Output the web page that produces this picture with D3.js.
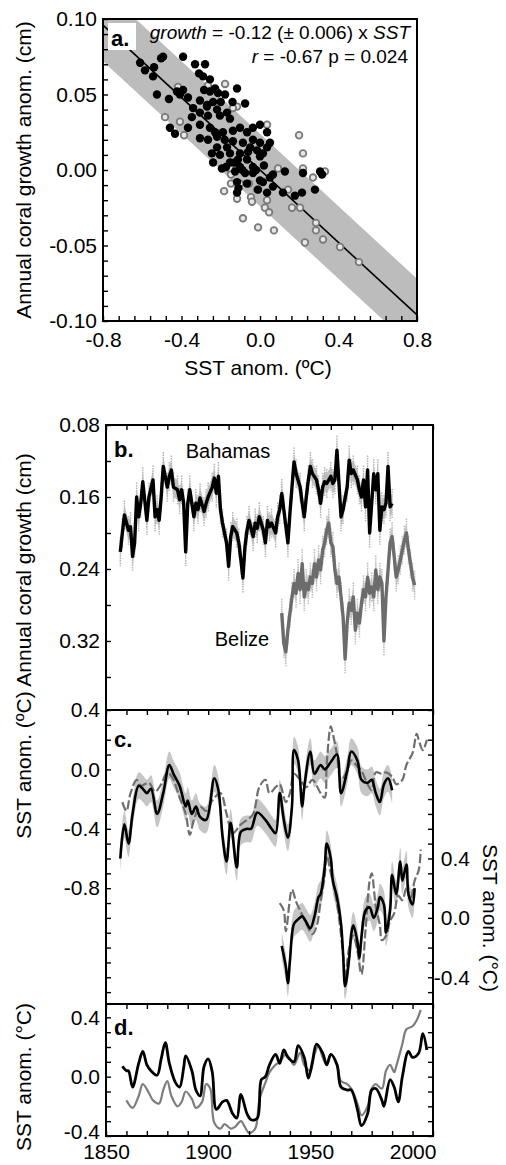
<!DOCTYPE html>
<html>
<head>
<meta charset="utf-8">
<script src="https://cdn.jsdelivr.net/npm/d3@7"></script>
<style>
body { margin: 0; background: #fff; }
</style>
</head>
<body>
<svg></svg>
<script>
// ================= DATA =================
// panel a: [SST anom, growth anom]
const filledPoints = [[-0.611,0.071],[-0.540,0.068],[-0.494,0.075],[-0.392,0.075],[-0.545,0.062],[-0.525,0.050],[-0.464,0.047],[-0.459,0.028],[-0.433,0.024],[-0.408,0.050],[-0.367,0.048],[-0.347,0.035],[-0.367,0.028],[-0.331,0.070],[-0.311,0.064],[-0.290,0.062],[-0.255,0.060],[-0.285,0.053],[-0.255,0.052],[-0.229,0.054],[-0.214,0.051],[-0.178,0.050],[-0.117,0.054],[-0.076,0.044],[-0.306,0.046],[-0.270,0.043],[-0.239,0.045],[-0.306,0.038],[-0.265,0.036],[-0.219,0.040],[-0.204,0.036],[-0.168,0.038],[-0.153,0.034],[-0.306,0.030],[-0.255,0.028],[-0.229,0.025],[-0.306,0.021],[-0.265,0.020],[-0.219,0.022],[-0.189,0.025],[-0.138,0.026],[-0.102,0.028],[-0.066,0.025],[-0.036,0.028],[0.000,0.030],[0.036,0.025],[0.051,0.018],[0.000,0.018],[-0.036,0.020],[-0.087,0.018],[-0.138,0.019],[-0.168,0.015],[-0.219,0.015],[-0.245,0.011],[-0.204,0.010],[-0.153,0.011],[-0.102,0.011],[-0.061,0.012],[-0.015,0.013],[0.015,0.011],[-0.239,0.005],[-0.194,0.001],[-0.153,0.005],[-0.112,0.007],[-0.066,0.007],[-0.036,0.002],[0.000,0.009],[0.036,0.015],[-0.076,-0.002],[-0.036,-0.002],[-0.066,-0.009],[0.015,-0.008],[0.066,-0.003],[0.127,-0.001],[-0.117,-0.015],[-0.010,-0.013],[0.036,-0.015],[0.066,-0.011],[0.117,-0.015],[0.178,-0.017],[0.214,-0.015],[0.280,-0.013],[0.219,-0.002],[0.316,-0.003],[0.306,-0.001],[-0.117,-0.008],[-0.127,-0.001],[-0.102,0.002],[-0.173,0.002],[-0.504,0.074],[-0.423,0.052],[-0.392,0.053],[-0.341,0.041],[-0.270,0.042],[-0.586,0.066],[0.051,-0.005],[0.000,-0.007],[-0.180,0.020],[-0.130,0.005],[-0.090,0.000],[-0.050,0.015],[-0.020,0.000],[0.020,0.003],[-0.200,0.045],[-0.140,0.045],[-0.280,0.070],[-0.110,-0.012]];
const openPoints = [[-0.484,0.035],[-0.418,0.055],[-0.387,0.023],[-0.408,0.032],[-0.265,0.056],[-0.178,0.057],[-0.117,0.042],[-0.138,0.041],[0.036,0.030],[0.199,0.023],[0.219,0.011],[0.219,0.001],[0.331,-0.001],[0.270,-0.005],[0.092,0.001],[-0.153,0.001],[-0.148,-0.003],[-0.102,-0.009],[-0.148,-0.009],[-0.183,-0.014],[-0.056,-0.009],[-0.015,-0.013],[-0.046,-0.018],[-0.117,-0.019],[-0.041,-0.021],[0.036,-0.020],[0.025,-0.025],[0.046,-0.028],[-0.087,-0.032],[-0.010,-0.038],[0.071,-0.040],[0.143,-0.013],[0.163,-0.025],[0.204,-0.025],[0.285,-0.035],[0.285,-0.040],[0.321,-0.046],[0.229,-0.048],[0.408,-0.051],[0.504,-0.061]];
const fitSlope = -0.12;
const fitBand = 0.024;

// panel b: annual coral growth (cm)
const bahamasYears = [1857,1858,1859,1861,1862,1863,1864,1865,1866,1867,1868,1870,1871,1873,1874,1875,1876,1877,1878,1880,1881,1882,1883,1885,1886,1887,1888,1889,1890,1891,1893,1894,1895,1896,1898,1899,1900,1902,1903,1904,1905,1906,1907,1909,1910,1911,1912,1914,1915,1916,1917,1918,1919,1920,1922,1923,1924,1925,1927,1928,1929,1930,1931,1933,1934,1935,1936,1937,1939,1940,1941,1942,1943,1945,1946,1947,1948,1949,1950,1951,1953,1954,1955,1956,1957,1958,1960,1961,1962,1963,1964,1965,1966,1968,1969,1970,1971,1973,1974,1975,1976,1977,1978,1979,1981,1982,1983,1984,1985,1986,1987,1988,1989,1990];
const bahamasGrowth = [0.221,0.200,0.180,0.197,0.193,0.226,0.211,0.160,0.182,0.167,0.143,0.186,0.160,0.141,0.182,0.174,0.186,0.160,0.126,0.149,0.137,0.130,0.149,0.152,0.163,0.152,0.167,0.221,0.167,0.152,0.182,0.167,0.174,0.161,0.176,0.167,0.160,0.149,0.139,0.156,0.137,0.174,0.189,0.211,0.237,0.204,0.193,0.200,0.211,0.230,0.250,0.215,0.197,0.186,0.204,0.189,0.195,0.182,0.197,0.211,0.186,0.193,0.189,0.200,0.182,0.174,0.156,0.174,0.211,0.178,0.149,0.121,0.134,0.149,0.167,0.182,0.160,0.141,0.126,0.134,0.141,0.152,0.167,0.149,0.143,0.145,0.137,0.145,0.141,0.108,0.145,0.182,0.174,0.149,0.119,0.134,0.130,0.141,0.152,0.160,0.141,0.171,0.130,0.200,0.134,0.152,0.134,0.197,0.171,0.174,0.167,0.126,0.171,0.167];
const belizeFirstYear = 1936;
const belizeGrowth = [0.289,0.323,0.332,0.308,0.289,0.271,0.256,0.267,0.245,0.263,
  0.234,0.271,0.256,0.263,0.249,0.256,0.234,0.249,0.230,0.241,
  0.219,0.211,0.197,0.189,0.211,0.215,0.241,0.256,0.249,0.271,
  0.293,0.340,0.300,0.278,0.286,0.271,0.308,0.289,0.300,0.278,
  0.263,0.271,0.249,0.267,0.260,0.271,0.241,0.263,0.249,0.256,
  0.320,0.271,0.241,0.211,0.204,0.226,0.249,0.241,0.230,0.219,
  0.208,0.200,0.219,0.234,0.249,0.258];
const growthErr = 0.016;

// panel c: coral SST (black) and instrumental SST (grey dashed)
const cBahYears = [1857,1859,1861,1863,1866,1868,1870,1872,1875,1878,1881,1883,1886,1889,1890,1892,1894,1896,1899,1903,1905,1907,1909,1911,1914,1916,1919,1921,1924,1928,1931,1933,1935,1937,1939,1941,1942,1944,1946,1947,1950,1952,1955,1957,1960,1963,1965,1968,1970,1973,1975,1978,1980,1982,1984,1986,1988,1990];
const cBahSST = [-0.60,-0.37,-0.50,-0.30,-0.11,-0.13,-0.16,-0.13,-0.30,-0.16,0.03,-0.03,-0.11,-0.25,-0.21,-0.30,-0.25,-0.32,-0.34,-0.06,-0.14,-0.45,-0.62,-0.36,-0.66,-0.42,-0.40,-0.40,-0.29,-0.34,-0.40,-0.43,-0.16,-0.34,-0.46,-0.25,0.13,0.06,-0.25,-0.12,0.12,-0.03,0.03,0.00,0.05,0.10,-0.16,-0.01,0.12,0.06,-0.07,-0.09,-0.07,-0.16,-0.22,-0.10,-0.06,-0.14];
const cBahInstrYears = [1858,1860,1862,1865,1867,1871,1874,1877,1880,1883,1886,1889,1891,1893,1896,1899,1902,1906,1909,1912,1916,1919,1922,1925,1928,1930,1933,1935,1938,1940,1942,1945,1948,1951,1955,1957,1958,1960,1961,1963,1965,1968,1970,1973,1975,1978,1980,1982,1985,1987,1990,1992,1995,1997,2000,2002,2003,2005,2007];
const cBahInstrSST = [-0.22,-0.28,-0.16,-0.07,-0.11,-0.09,-0.15,-0.10,-0.02,-0.07,-0.19,-0.30,-0.44,-0.34,-0.25,-0.28,-0.21,-0.16,-0.30,-0.43,-0.37,-0.34,-0.30,-0.12,-0.07,-0.16,-0.12,-0.10,-0.22,-0.16,-0.03,-0.07,-0.12,-0.07,-0.16,-0.19,0.04,0.29,0.24,0.10,-0.07,-0.01,0.06,0.02,-0.01,-0.10,-0.14,-0.02,-0.03,-0.02,-0.05,-0.10,-0.07,0.03,0.11,0.24,0.20,0.13,0.20];
// Belize pair, read on the right-hand axis
const cBelYears = [1936,1938,1939,1940,1942,1944,1946,1948,1950,1952,1954,1955,1957,1958,1960,1961,1963,1965,1966,1967,1969,1970,1971,1973,1974,1975,1977,1979,1981,1983,1984,1986,1987,1989,1990,1992,1994,1995,1997,1998,2000,2001];
const cBelSST = [-0.19,-0.33,-0.44,-0.29,-0.04,-0.01,0.01,-0.03,-0.07,0.01,0.14,0.16,0.34,0.50,0.40,0.25,0.14,-0.04,-0.24,-0.46,-0.27,-0.11,-0.05,-0.16,-0.27,-0.13,0.05,0.07,0.00,0.07,0.14,0.09,-0.10,0.05,0.29,0.16,0.38,0.25,0.36,0.16,0.09,0.20];
const cBelInstrYears = [1935,1937,1938,1941,1943,1946,1948,1951,1953,1955,1957,1958,1960,1962,1964,1966,1967,1969,1971,1973,1975,1977,1979,1980,1982,1984,1985,1987,1989,1991,1993,1995,1997,1999,2001,2003,2004];
const cBelInstrSST = [0.10,0.05,-0.09,0.19,0.11,0.02,-0.04,-0.11,-0.06,0.11,0.28,0.42,0.30,0.18,0.00,-0.25,-0.40,-0.20,-0.12,-0.22,-0.38,-0.08,0.25,0.30,0.08,-0.05,-0.15,-0.12,-0.02,0.03,0.15,0.12,0.20,0.12,0.25,0.32,0.46];
const rightOffset = 1.0;  // right axis = left axis + 1.0
const sstErr = 0.09;

// panel d
const dBlackYears = [1858,1860,1861,1863,1866,1868,1870,1872,1875,1877,1879,1881,1884,1886,1888,1889,1892,1894,1896,1898,1900,1902,1904,1907,1909,1912,1914,1916,1919,1921,1924,1926,1928,1930,1933,1935,1937,1939,1942,1944,1947,1949,1951,1953,1956,1958,1960,1963,1965,1968,1970,1973,1975,1978,1980,1982,1985,1986,1989,1991,1993,1995,1998,2000,2003,2005,2007];
const dBlackSST = [0.07,0.04,0.04,-0.07,0.09,0.17,0.08,0.04,0.01,0.12,0.23,0.09,-0.04,-0.07,0.06,0.14,0.04,-0.09,-0.13,0.07,0.12,0.03,-0.22,-0.17,-0.16,-0.25,-0.28,-0.12,-0.25,-0.29,-0.28,-0.02,0.00,0.08,0.15,0.09,0.18,0.13,0.10,0.21,0.13,-0.01,0.10,0.22,0.16,0.08,0.15,0.08,-0.07,-0.09,-0.09,-0.22,-0.33,-0.25,-0.09,-0.08,-0.16,-0.20,-0.02,-0.07,-0.17,0.00,0.17,0.13,0.16,0.29,0.18];
const dGrayYears = [1860,1863,1866,1868,1871,1873,1876,1878,1880,1882,1885,1887,1889,1892,1894,1897,1899,1901,1903,1906,1908,1911,1913,1916,1918,1920,1923,1925,1928,1930,1933,1935,1938,1940,1942,1945,1947,1950,1952,1954,1956,1958,1960,1963,1965,1968,1970,1973,1975,1978,1980,1982,1985,1987,1989,1991,1992,1995,1997,2000,2002,2004];
const dGraySST = [-0.16,-0.21,-0.13,-0.05,-0.11,-0.16,-0.18,-0.09,-0.03,-0.13,-0.20,-0.17,-0.10,-0.15,-0.21,-0.17,-0.05,-0.08,-0.31,-0.35,-0.32,-0.35,-0.34,-0.30,-0.34,-0.38,-0.35,-0.16,-0.04,0.03,0.08,0.10,0.15,0.12,0.08,0.16,0.08,0.04,0.15,0.21,0.13,0.08,0.15,0.09,-0.03,-0.05,-0.08,-0.18,-0.26,-0.20,-0.08,-0.05,-0.08,0.04,0.08,0.03,0.07,0.22,0.32,0.34,0.38,0.45];

const yearTicks = d3.range(1850, 2011, 10);
const yearLabels = [1850, 1900, 1950, 2000];

// ================= SETUP =================
const font = "'Liberation Sans', Arial, Helvetica, sans-serif";
const svg = d3.select("svg").attr("width", 506).attr("height", 1165)
  .attr("font-family", font);

const zip = (xs, ys) => xs.map((x, i) => ({x: x, y: ys[i]}));
const fmt = n => d => (Math.abs(d) < 1e-9 ? 0 : d).toFixed(n);

const xA = d3.scaleLinear().domain([-0.8, 0.8]).range([103, 417]);
const yA = d3.scaleLinear().domain([-0.10, 0.10]).range([321, 19]);
const xT = d3.scaleLinear().domain([1850, 2010]).range([106, 433]);
const yB = d3.scaleLinear().domain([0.08, 0.3967]).range([425, 710]);
const yC = d3.scaleLinear().domain([-1.58, 0.4]).range([1004, 710]);
const yD = d3.scaleLinear().domain([-0.4, 0.49]).range([1136, 1004]);

const defs = svg.append("defs");
function clip(id, x0, y0, x1, y1) {
  defs.append("clipPath").attr("id", id).append("rect")
    .attr("x", x0).attr("y", y0).attr("width", x1 - x0).attr("height", y1 - y0);
  return svg.append("g").attr("clip-path", "url(#" + id + ")");
}

function tidy(g, size) {
  g.select(".domain").remove();
  g.attr("font-family", font).attr("font-size", size || 21);
  g.selectAll("line").attr("stroke", "#000").attr("stroke-width", 1.4);
  g.selectAll("text").attr("fill", "#000");
}

function frame(x0, y0, x1, y1) {
  svg.append("rect").attr("x", x0).attr("y", y0).attr("width", x1 - x0).attr("height", y1 - y0)
    .attr("fill", "none").attr("stroke", "#000").attr("stroke-width", 2);
}

// ================= PANEL a =================
const ga = clip("clipA", 103, 19, 417, 321);
const bandX = [-0.8, 0.8];
ga.append("path")
  .attr("d", d3.line()([
    [xA(bandX[0]), yA(fitSlope * bandX[0] + fitBand)],
    [xA(bandX[1]), yA(fitSlope * bandX[1] + fitBand)],
    [xA(bandX[1]), yA(fitSlope * bandX[1] - fitBand)],
    [xA(bandX[0]), yA(fitSlope * bandX[0] - fitBand)]]) + "Z")
  .attr("fill", "#bcbcbc");
ga.append("line")
  .attr("x1", xA(-0.8)).attr("y1", yA(fitSlope * -0.8))
  .attr("x2", xA(0.8)).attr("y2", yA(fitSlope * 0.8))
  .attr("stroke", "#000").attr("stroke-width", 1.6);
ga.selectAll(".op").data(openPoints).enter().append("circle")
  .attr("cx", d => xA(d[0])).attr("cy", d => yA(d[1])).attr("r", 3.3)
  .attr("fill", "#e6e6e6").attr("stroke", "#7a7a7a").attr("stroke-width", 1.8);
ga.selectAll(".fp").data(filledPoints).enter().append("circle")
  .attr("cx", d => xA(d[0])).attr("cy", d => yA(d[1])).attr("r", 4.2)
  .attr("fill", "#000");

svg.append("g").attr("transform", "translate(103,0)")
  .call(d3.axisLeft(yA).tickValues(d3.range(-10, 11).map(i => i / 100)).tickSize(-5).tickFormat(""))
  .call(g => tidy(g));
svg.append("g").attr("transform", "translate(103,0)")
  .call(d3.axisLeft(yA).tickValues([-0.10, -0.05, 0, 0.05, 0.10]).tickSize(0).tickPadding(6).tickFormat(fmt(2)))
  .call(g => tidy(g));
svg.append("g").attr("transform", "translate(0,321)")
  .call(d3.axisBottom(xA).tickValues(d3.range(-10, 11).map(i => i * 0.08)).tickSize(-5).tickFormat(""))
  .call(g => tidy(g));
svg.append("g").attr("transform", "translate(0,321)")
  .call(d3.axisBottom(xA).tickValues([-0.8, -0.4, 0, 0.4, 0.8]).tickSize(0).tickPadding(11).tickFormat(fmt(1)))
  .call(g => tidy(g));
frame(103, 19, 417, 321);

svg.append("rect").attr("x", 108).attr("y", 23).attr("width", 28).attr("height", 27).attr("fill", "#fff");
svg.append("text").attr("x", 111).attr("y", 46).attr("font-size", 22).attr("font-weight", "bold").text("a.");

const eq = svg.append("text").attr("x", 410).attr("y", 39).attr("text-anchor", "end").attr("font-size", 19);
eq.append("tspan").attr("font-style", "italic").text("growth");
eq.append("tspan").text(" = -0.12 (\u00b1 0.006) x ");
eq.append("tspan").attr("font-style", "italic").text("SST");
const eq2 = svg.append("text").attr("x", 408).attr("y", 63).attr("text-anchor", "end").attr("font-size", 19);
eq2.append("tspan").attr("font-style", "italic").text("r");
eq2.append("tspan").text(" = -0.67 p = 0.024");

svg.append("text").attr("transform", "translate(31,170) rotate(-90)").attr("text-anchor", "middle")
  .attr("font-size", 21).text("Annual coral growth anom. (cm)");
svg.append("text").attr("x", 258).attr("y", 375).attr("text-anchor", "middle")
  .attr("font-size", 21).text("SST anom. (\u00baC)");

// ================= PANEL b =================
const gb = clip("clipB", 106, 425, 433, 710);
const bah = zip(bahamasYears, bahamasGrowth);
const bel = belizeGrowth.map((v, i) => ({x: belizeFirstYear + i, y: v}));

function errBars(g, data, color) {
  g.append("path").datum(data)
    .attr("d", d3.area().x(d => xT(d.x)).y0(d => yB(d.y - growthErr * 0.7)).y1(d => yB(d.y + growthErr * 0.7)))
    .attr("fill", color).attr("opacity", 0.8);
  g.selectAll(null).data(data).enter().append("line")
    .attr("x1", d => xT(d.x)).attr("x2", d => xT(d.x))
    .attr("y1", d => yB(d.y - growthErr)).attr("y2", d => yB(d.y + growthErr))
    .attr("stroke", color).attr("stroke-width", 1.5).attr("stroke-dasharray", "1.5,1");
}
const lineB = d3.line().x(d => xT(d.x)).y(d => yB(d.y));
errBars(gb, bah, "#b4b4b4");
gb.append("path").datum(bah).attr("d", lineB).attr("fill", "none")
  .attr("stroke", "#000").attr("stroke-width", 3.4).attr("stroke-linejoin", "round");
errBars(gb, bel, "#bdbdbd");
gb.append("path").datum(bel).attr("d", lineB).attr("fill", "none")
  .attr("stroke", "#6c6c6c").attr("stroke-width", 3.4).attr("stroke-linejoin", "round");

svg.append("g").attr("transform", "translate(106,0)")
  .call(d3.axisLeft(yB).tickValues([0.08, 0.12, 0.16, 0.20, 0.24, 0.28, 0.32, 0.36]).tickSize(-5).tickFormat(""))
  .call(g => tidy(g));
svg.append("g").attr("transform", "translate(106,0)")
  .call(d3.axisLeft(yB).tickValues([0.08, 0.16, 0.24, 0.32]).tickSize(0).tickPadding(6).tickFormat(fmt(2)))
  .call(g => tidy(g));
svg.append("g").attr("transform", "translate(0,425)")
  .call(d3.axisTop(xT).tickValues(yearTicks).tickSize(-5).tickFormat(""))
  .call(g => tidy(g));
frame(106, 425, 433, 710);

svg.append("text").attr("x", 114).attr("y", 457).attr("font-size", 22).attr("font-weight", "bold").text("b.");
svg.append("text").attr("x", 228).attr("y", 458).attr("text-anchor", "middle").attr("font-size", 20).text("Bahamas");
svg.append("text").attr("x", 242).attr("y", 646).attr("text-anchor", "middle").attr("font-size", 20).text("Belize");
svg.append("text").attr("transform", "translate(31,570) rotate(-90)").attr("text-anchor", "middle")
  .attr("font-size", 21).text("Annual coral growth (cm)");

// ================= PANEL c =================
const gc = clip("clipC", 106, 710, 433, 1004);
const curve = d3.curveCatmullRom.alpha(0.5);
const cBah = zip(cBahYears, cBahSST);
const cBahI = zip(cBahInstrYears, cBahInstrSST);
const cBel = zip(cBelYears, cBelSST.map(v => v - rightOffset));
const cBelI = zip(cBelInstrYears, cBelInstrSST.map(v => v - rightOffset));

const bandC = d3.area().x(d => xT(d.x)).y0(d => yC(d.y - sstErr)).y1(d => yC(d.y + sstErr)).curve(curve);
const lineC = d3.line().x(d => xT(d.x)).y(d => yC(d.y)).curve(curve);
[cBah, cBel].forEach(s => gc.append("path").datum(s).attr("d", bandC).attr("fill", "#c6c6c6"));
[cBahI, cBelI].forEach(s => gc.append("path").datum(s).attr("d", lineC).attr("fill", "none")
  .attr("stroke", "#6e6e6e").attr("stroke-width", 2.2).attr("stroke-dasharray", "9,3"));
[cBah, cBel].forEach(s => gc.append("path").datum(s).attr("d", lineC).attr("fill", "none")
  .attr("stroke", "#000").attr("stroke-width", 2.6));

const cMinor = d3.range(-15, 5).map(i => i / 10);
svg.append("g").attr("transform", "translate(106,0)")
  .call(d3.axisLeft(yC).tickValues(cMinor).tickSize(-5).tickFormat(""))
  .call(g => tidy(g));
svg.append("g").attr("transform", "translate(433,0)")
  .call(d3.axisRight(yC).tickValues(cMinor).tickSize(-5).tickFormat(""))
  .call(g => tidy(g));
svg.append("g").attr("transform", "translate(106,0)")
  .call(d3.axisLeft(yC).tickValues([0.4, 0, -0.4, -0.8]).tickSize(0).tickPadding(6).tickFormat(fmt(1)))
  .call(g => tidy(g));
svg.append("g").attr("transform", "translate(0,710)")
  .call(d3.axisTop(xT).tickValues(yearTicks).tickSize(-5).tickFormat(""))
  .call(g => tidy(g));
svg.selectAll(".rlab").data([0.4, 0, -0.4]).enter().append("text")
  .attr("x", 470).attr("y", d => yC(d - rightOffset)).attr("dy", "0.35em")
  .attr("text-anchor", "end").attr("font-size", 21).text(fmt(1));
frame(106, 710, 433, 1004);

svg.append("text").attr("x", 114).attr("y", 747).attr("font-size", 22).attr("font-weight", "bold").text("c.");
svg.append("text").attr("transform", "translate(31,765) rotate(-90)").attr("text-anchor", "middle")
  .attr("font-size", 21).text("SST anom. (\u00baC)");
svg.append("text").attr("transform", "translate(483,918) rotate(90)").attr("text-anchor", "middle")
  .attr("font-size", 21).text("SST anom. (\u00b0C)");

// ================= PANEL d =================
const gd = clip("clipD", 106, 1004, 433, 1136);
const lineD = d3.line().x(d => xT(d.x)).y(d => yD(d.y)).curve(curve);
gd.append("path").datum(zip(dGrayYears, dGraySST)).attr("d", lineD).attr("fill", "none")
  .attr("stroke", "#7d7d7d").attr("stroke-width", 2.2);
gd.append("path").datum(zip(dBlackYears, dBlackSST)).attr("d", lineD).attr("fill", "none")
  .attr("stroke", "#000").attr("stroke-width", 2.8);

const dMinor = d3.range(-4, 5).map(i => i / 10);
svg.append("g").attr("transform", "translate(106,0)")
  .call(d3.axisLeft(yD).tickValues(dMinor).tickSize(-5).tickFormat(""))
  .call(g => tidy(g));
svg.append("g").attr("transform", "translate(433,0)")
  .call(d3.axisRight(yD).tickValues(dMinor).tickSize(-5).tickFormat(""))
  .call(g => tidy(g));
svg.append("g").attr("transform", "translate(106,0)")
  .call(d3.axisLeft(yD).tickValues([0.4, 0, -0.4]).tickSize(0).tickPadding(6).tickFormat(fmt(1)))
  .call(g => tidy(g))
  .call(g => g.selectAll("text").filter(d => d < 0).attr("dy", "0.1em"));
svg.append("g").attr("transform", "translate(0,1004)")
  .call(d3.axisTop(xT).tickValues(yearTicks).tickSize(-5).tickFormat(""))
  .call(g => tidy(g));
svg.append("g").attr("transform", "translate(0,1136)")
  .call(d3.axisBottom(xT).tickValues(yearTicks).tickSize(-5).tickFormat(""))
  .call(g => tidy(g));
svg.append("g").attr("transform", "translate(0,1136)")
  .call(d3.axisBottom(xT).tickValues(yearLabels).tickSize(0).tickPadding(8).tickFormat(d3.format("d")))
  .call(g => tidy(g));
frame(106, 1004, 433, 1136);

svg.append("text").attr("x", 114).attr("y", 1035).attr("font-size", 22).attr("font-weight", "bold").text("d.");
svg.append("text").attr("transform", "translate(31,1077) rotate(-90)").attr("text-anchor", "middle")
  .attr("font-size", 21).text("SST anom. (\u00b0C)");
</script>
</body>
</html>
